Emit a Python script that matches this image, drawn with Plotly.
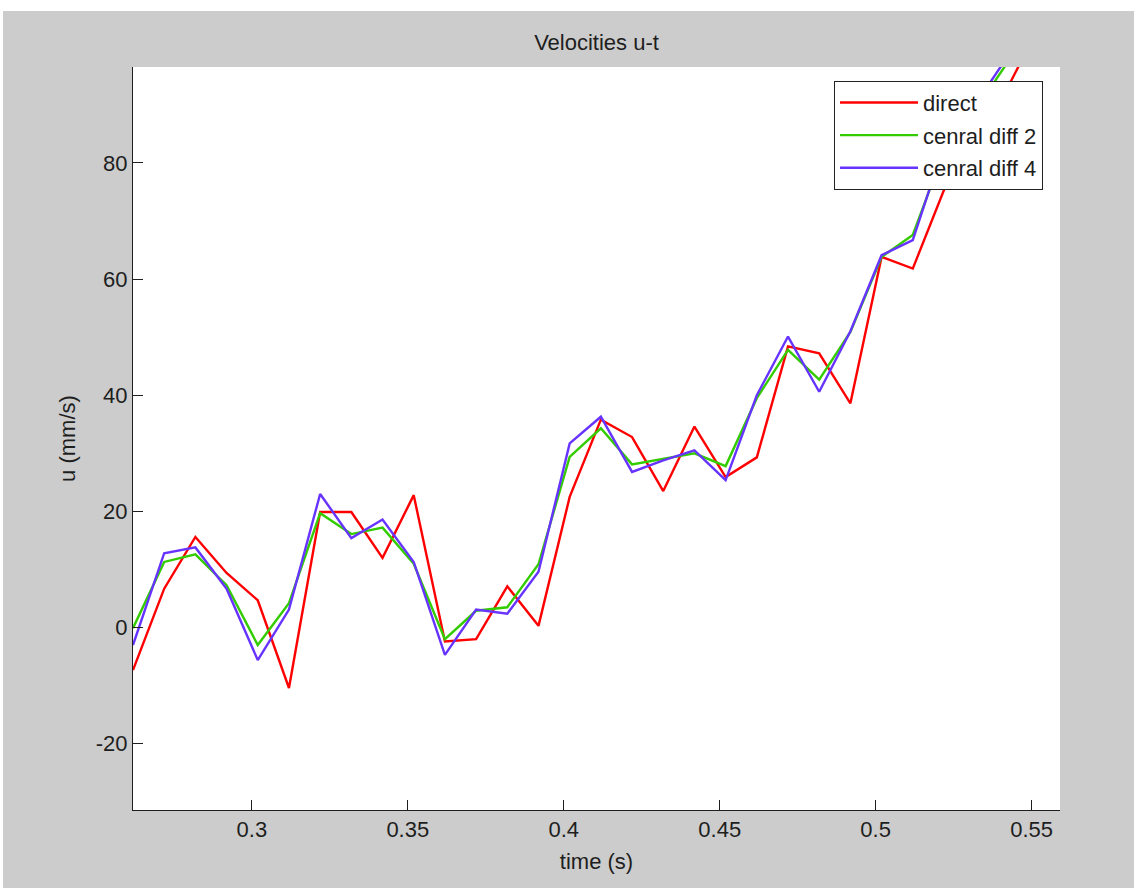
import plotly.graph_objects as go

# sample times (s)
t = [0.2619 + 0.01 * k for k in range(30)]

# velocity estimates (mm/s)
u_direct = [-7.3, 6.7, 15.6, 9.4, 4.7, -10.4, 19.9, 19.9, 12.0, 22.8,
            -2.4, -2.0, 7.1, 0.3, 22.5, 35.8, 32.8, 23.5, 34.6, 25.9,
            29.3, 48.4, 47.2, 38.6, 63.8, 61.8, 75.3, 84.0, 92.5, 103.0]
u_cd2 = [-0.1, 11.3, 12.6, 7.3, -3.0, 4.2, 19.7, 16.1, 17.2, 11.0,
         -2.0, 2.9, 3.5, 10.9, 29.4, 34.3, 28.1, 29.1, 30.0, 27.8,
         39.5, 47.8, 42.7, 50.9, 63.8, 67.6, 82.0, 89.0, 97.0, 105.0]
u_cd4 = [-3.0, 12.8, 13.8, 6.7, -5.6, 3.1, 23.0, 15.4, 18.6, 11.3,
         -4.7, 3.1, 2.4, 9.6, 31.7, 36.3, 26.8, 28.8, 30.5, 25.4,
         40.0, 50.1, 40.6, 51.0, 64.1, 66.7, 83.0, 90.0, 98.0, 106.0]

series_names = ["direct", "cenral diff 2", "cenral diff 4"]
series_colors = ["#ff0000", "#33cc00", "#6633ff"]

x_ticks = [0.3, 0.35, 0.4, 0.45, 0.5, 0.55]
x_tick_text = ["0.3", "0.35", "0.4", "0.45", "0.5", "0.55"]
y_ticks = [-20, 0, 20, 40, 60, 80]
y_tick_text = ["-20", "0", "20", "40", "60", "80"]

FONT = "Liberation Sans, Arial, sans-serif"
INK = "#1e1e1e"
FS = 22

fig = go.Figure()
for name, vals, col in zip(series_names, [u_direct, u_cd2, u_cd4], series_colors):
    fig.add_trace(go.Scatter(x=t, y=vals, mode="lines", name=name,
                             legendgroup=name,
                             line=dict(color=col, width=2.4)))

W, H = 1134, 888
L, R, T, B = 133, 74, 67, 78
pw, ph = W - L - R, H - T - B

def px_x(p):
    return (p - L) / pw

def px_y(p):
    return (H - B - p) / ph

axis_common = dict(
    showline=True, linecolor=INK, linewidth=1, mirror=False,
    ticks="inside", ticklen=10, tickwidth=1, tickcolor=INK,
    showgrid=False, zeroline=False,
    tickfont=dict(family=FONT, size=FS, color=INK),
)

fig.update_layout(
    width=W, height=H,
    margin=dict(l=L, r=R, t=T, b=B, autoexpand=False),
    paper_bgcolor="#cccccc",
    plot_bgcolor="#ffffff",
    font=dict(family=FONT, size=FS, color=INK),
    title=dict(text="Velocities u-t", x=(L + pw / 2) / W, xanchor="center",
               y=(H - 42) / H, yanchor="middle", yref="container",
               font=dict(family=FONT, size=FS, color=INK)),
    xaxis=dict(range=[0.2619, 0.5591], tickvals=x_ticks, ticktext=x_tick_text,
               title=dict(text="time (s)", standoff=12,
                          font=dict(family=FONT, size=FS, color=INK)),
               **axis_common),
    yaxis=dict(range=[-31.4, 96.5], tickvals=y_ticks, ticktext=y_tick_text,
               title=dict(text="u (mm/s)", standoff=14,
                          font=dict(family=FONT, size=FS, color=INK)),
               **axis_common),
    legend=dict(x=px_x(834), y=px_y(80.7), xanchor="left", yanchor="top",
                bgcolor="#ffffff", bordercolor="#222222", borderwidth=1,
                font=dict(family=FONT, size=FS, color=INK),
                itemwidth=78, tracegroupgap=1),
    showlegend=True,
    shapes=[
        # white strips along the top and left edges of the canvas
        dict(type="rect", xref="paper", yref="paper", layer="below",
             x0=px_x(-5), x1=px_x(W + 5), y0=px_y(11), y1=px_y(-5),
             fillcolor="#ffffff", line=dict(width=0)),
        dict(type="rect", xref="paper", yref="paper", layer="below",
             x0=px_x(-5), x1=px_x(3), y0=px_y(H + 5), y1=px_y(-5),
             fillcolor="#ffffff", line=dict(width=0)),
    ],
)

fig.write_html("out.html")
